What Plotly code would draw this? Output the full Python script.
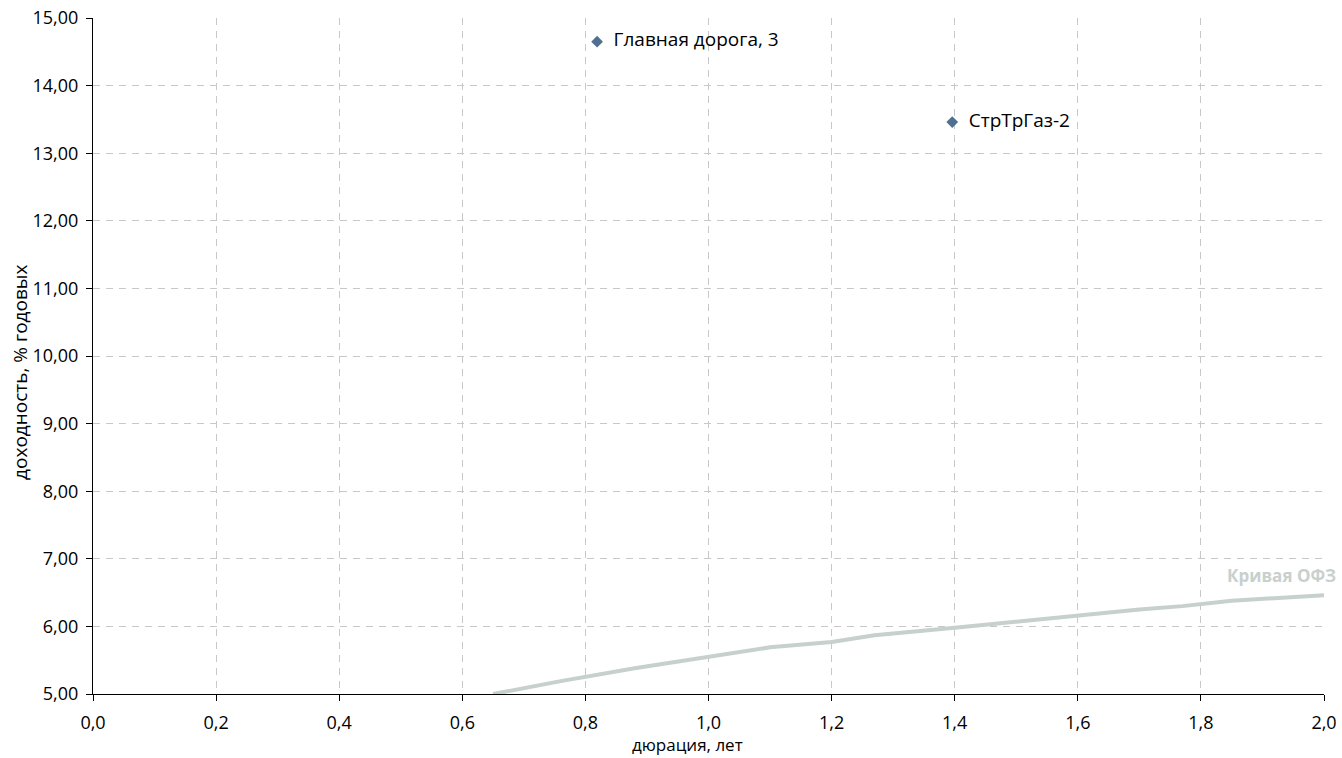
import plotly.graph_objects as go

# Data
bond_names = ["Главная дорога, 3", "СтрТрГаз-2"]
bond_duration = [0.819, 1.396]
bond_yield = [14.65, 13.46]

curve_duration = [0.65, 0.76, 0.88, 1.0, 1.1, 1.2, 1.27, 1.4, 1.5, 1.6, 1.7, 1.77, 1.85, 2.0]
curve_yield = [5.0, 5.19, 5.38, 5.55, 5.69, 5.77, 5.87, 5.98, 6.07, 6.17, 6.25, 6.30, 6.38, 6.46]
curve_name = "Кривая ОФЗ"

x_ticks = [0.0, 0.2, 0.4, 0.6, 0.8, 1.0, 1.2, 1.4, 1.6, 1.8, 2.0]
y_ticks = [5, 6, 7, 8, 9, 10, 11, 12, 13, 14, 15]

x_title = "дюрация, лет"
y_title = "доходность, % годовых"

FONT = "Open Sans"

fig = go.Figure()
fig.add_trace(go.Scatter(
    x=curve_duration, y=curve_yield, mode="lines",
    line=dict(color="#c6d0cd", width=4),
    name=curve_name, showlegend=False, hoverinfo="skip",
))
fig.add_trace(go.Scatter(
    x=bond_duration, y=bond_yield, mode="markers+text",
    marker=dict(symbol="diamond", size=9, color="#4f7091"),
    text=["  " + n for n in bond_names], textposition="middle right",
    textfont=dict(family=FONT, size=19, color="#000000"),
    showlegend=False,
))

fig.add_annotation(
    x=1.0, y=6.75, xref="paper", yref="y", text="<b>" + curve_name + "</b>",
    showarrow=False, xanchor="right", xshift=14,
    font=dict(family=FONT, size=17, color="#c8d0cd"),
)
fig.add_annotation(
    x=0.4833, y=-0.0947, xref="paper", yref="paper", text=x_title,
    showarrow=False, xanchor="center", yanchor="bottom",
    font=dict(family=FONT, size=17, color="#000000"),
)
fig.add_annotation(
    x=-0.0593, y=0.475, xref="paper", yref="paper", text=y_title,
    showarrow=False, xanchor="center", yanchor="middle", textangle=-90,
    font=dict(family=FONT, size=19, color="#000000"),
)

axis_common = dict(
    showline=True, linecolor="#000000", linewidth=1.2,
    ticks="outside", ticklen=6, tickcolor="#000000",
    showgrid=True, gridcolor="#c8c8c8", griddash="7px,6px", gridwidth=1,
    zeroline=False, tickfont=dict(family=FONT, size=18, color="#000000"),
    automargin=False, ticklabeloverflow="allow",
)

fig.update_layout(
    width=1342, height=758,
    margin=dict(l=93, r=18, t=18, b=64),
    paper_bgcolor="#ffffff", plot_bgcolor="#ffffff",
    separators=", ",
    font=dict(family=FONT, size=18, color="#000000"),
    xaxis=dict(range=[0, 2.0], tickvals=x_ticks, tickformat=".1f",
               ticklabelstandoff=6, **axis_common),
    yaxis=dict(range=[5, 15], tickvals=y_ticks, tickformat=".2f",
               ticklabelstandoff=4, **axis_common),
)

fig.write_html("out.html", config={"displayModeBar": False},
               post_script="document.body.style.margin='0';")
